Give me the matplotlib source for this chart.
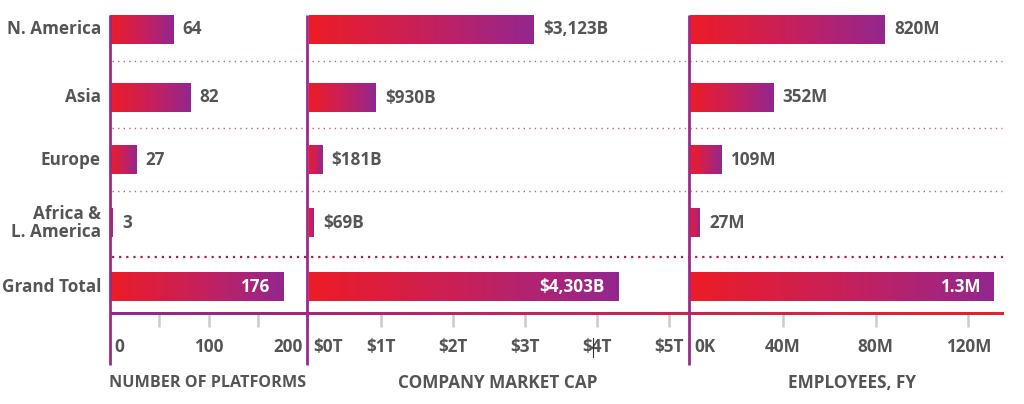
import numpy as np
import matplotlib
matplotlib.use("Agg")
import matplotlib.pyplot as plt
from matplotlib.colors import LinearSegmentedColormap

# ---------------- data ----------------
regions = ["N. America", "Asia", "Europe", "Africa &\nL. America", "Grand Total"]
platforms = [64, 82, 27, 3, 176]
platform_labels = ["64", "82", "27", "3", "176"]
market_cap_t = [3.123, 0.930, 0.181, 0.069, 4.303]
market_cap_labels = ["$3,123B", "$930B", "$181B", "$69B", "$4,303B"]
employees_axis_m = [84, 36, 13.4, 4.3, 131]
employee_labels = ["820M", "352M", "109M", "27M", "1.3M"]

platform_ticks = [0, 50, 100, 150, 200]
platform_ticklabels = ["0", "", "100", "", "200"]
cap_ticks = [0, 1, 2, 3, 4, 5]
cap_ticklabels = ["$0T", "$1T", "$2T", "$3T", "$4T", "$5T"]
emp_ticks = [0, 40, 80, 120]
emp_ticklabels = ["0K", "40M", "80M", "120M"]
titles = ["NUMBER OF PLATFORMS", "COMPANY MARKET CAP", "EMPLOYEES, FY"]

# ---------------- style / layout ----------------
W, H = 1024, 404
FONT = "Open Sans"
FS = 12.3
TXT = "#555555"
RED = "#ED1C26"
PURPLE = "#93278F"
LINE = "#9B2A8C"
cmap = LinearSegmentedColormap.from_list("rp", [RED, "#C8205A", PURPLE])

row_y = [29.5, 97.5, 160, 223, 287]   # row centres in pixels from top
bar_h = 29
axis_y = 314
sep_y = [61, 128, 191]
total_sep_y = 257
title_x = [208, 498, 852]
title_fs = [11.6, 12.3, 12.3]

fig = plt.figure(figsize=(W / 100, H / 100), dpi=100)
fig.patch.set_facecolor("white")


def pane(x0, x1, xlim):
    ax = fig.add_axes([x0 / W, 1 - axis_y / H, (x1 - x0) / W, axis_y / H])
    ax.set_xlim(*xlim)
    ax.set_ylim(axis_y, 0)
    for s in ax.spines.values():
        s.set_visible(False)
    ax.set_yticks([])
    ax.patch.set_alpha(0)
    return ax


panes = [
    (110, 307, (0, 197)),
    (307, 689, (-2 / 72, (689 - 309) / 72)),
    (689, 1004, (-1 / 2.32, (1004 - 690) / 2.32)),
]
series = [
    (platforms, platform_labels, platform_ticks, platform_ticklabels),
    (market_cap_t, market_cap_labels, cap_ticks, cap_ticklabels),
    (employees_axis_m, employee_labels, emp_ticks, emp_ticklabels),
]

grad = np.linspace(0, 1, 256).reshape(1, -1)

for i, ((x0, x1, xlim), (vals, labs, ticks, ticklabs)) in enumerate(zip(panes, series)):
    ax = pane(x0, x1, xlim)
    for j, (v, lab, yc) in enumerate(zip(vals, labs, row_y)):
        ax.imshow(grad, cmap=cmap, aspect="auto", interpolation="bilinear",
                  extent=(0, v, yc + bar_h / 2, yc - bar_h / 2), zorder=2)
        if j == len(vals) - 1:
            ax.annotate(lab, (v, yc), xytext=(-10, 0), textcoords="offset points",
                        ha="right", va="center", color="white", fontsize=FS,
                        fontweight="bold", family=FONT, zorder=3)
        else:
            ax.annotate(lab, (v, yc), xytext=(6.5, 0), textcoords="offset points",
                        ha="left", va="center", color=TXT, fontsize=FS,
                        fontweight="bold", family=FONT, zorder=3)
    ax.set_xlim(*xlim)
    ax.set_ylim(axis_y, 0)
    mark_ticks = [t for t in ticks if t != 0]
    ax.set_xticks(mark_ticks)
    ax.set_xticklabels([""] * len(mark_ticks))
    ax.tick_params(axis="x", direction="out", length=9, width=1.8, color="#CCCCCC", pad=0)
    trans = ax.get_xaxis_transform()
    ly = -(347 - axis_y) / axis_y
    for t, tl in zip(ticks, ticklabs):
        if not tl:
            continue
        if t == ticks[0]:
            ha, xx, off = "left", t, 4
        elif i == 0 and t == ticks[-1]:
            ha, xx, off = "right", xlim[1], -1
        else:
            ha, xx, off = "center", t, 0
        ax.annotate(tl, (xx, ly), xycoords=trans, xytext=(off * 0.72, 0),
                    textcoords="offset points", ha=ha, va="center", color=TXT,
                    fontsize=FS, fontweight="bold", family=FONT)

# row labels
lab_ax = fig.add_axes([0, 1 - axis_y / H, 110 / W, axis_y / H])
lab_ax.set_xlim(0, 110)
lab_ax.set_ylim(axis_y, 0)
lab_ax.axis("off")
for name, yc in zip(regions, row_y):
    lab_ax.text(101, yc, name, ha="right", va="center", color=TXT, fontsize=FS,
                fontweight="bold", family=FONT, linespacing=1.0)

# overlay for rules, separators and titles (pixel coordinates)
ov = fig.add_axes([0, 0, 1, 1], zorder=5)
ov.axis("off")
ov.patch.set_alpha(0)

for y in sep_y:
    ov.plot([112, 1002], [y, y], color="#C9607A", lw=1.0, ls=(0, (1, 3)))
ov.plot([112, 1004], [total_sep_y, total_sep_y], color="#A8204A", lw=1.6, ls=(0, (1, 2.2)))

axcmap = LinearSegmentedColormap.from_list("pr", ["#8E2A8E", "#C8245A", "#E8202A"])
ov.imshow(grad, cmap=axcmap, aspect="auto", interpolation="bilinear",
          extent=(110, 1004, axis_y + 1.5, axis_y - 1.5), zorder=4)

for x in [110, 307, 689]:
    ov.plot([x, x], [15, 365], color=LINE, lw=2.0, solid_capstyle="butt", zorder=6)

ov.plot([593, 593], [338, 357], color="#333333", lw=0.8)

for t, tx, tfs in zip(titles, title_x, title_fs):
    ov.text(tx, 383, t, ha="center", va="center", color=TXT, fontsize=tfs,
            fontweight="bold", family=FONT)

ov.set_xlim(0, W)
ov.set_ylim(H, 0)

fig.savefig("out.png", dpi=100, facecolor="white")
